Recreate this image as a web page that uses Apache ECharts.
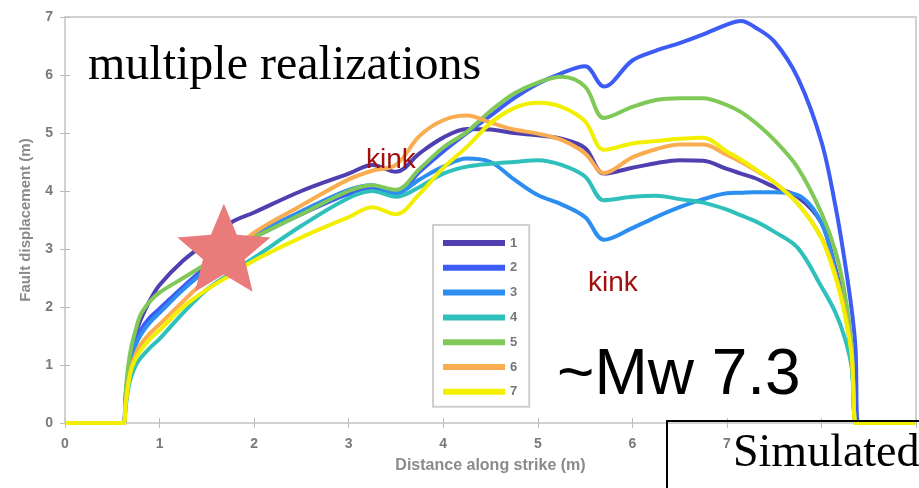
<!DOCTYPE html>
<html><head><meta charset="utf-8">
<script src="https://cdn.jsdelivr.net/npm/echarts/dist/echarts.min.js"></script>
<style>html,body{margin:0;padding:0;background:#fff}#c{width:919px;height:488px}</style>
</head><body><div id="c"></div>
<script>
// Distance along strike (m) sample positions
const distance = [0, 0.62, 0.64, 0.67, 0.7, 0.75, 0.8, 0.9, 1.0, 1.25, 1.5, 1.75, 2.0, 2.5, 3.0, 3.25, 3.5, 3.75, 4.0, 4.25, 4.5, 4.75, 5.0, 5.25, 5.5, 5.7, 6.0, 6.25, 6.5, 6.75, 7.0, 7.15, 7.3, 7.5, 7.75, 8.0, 8.15, 8.25, 8.32, 8.36, 8.39, 9];
// Fault displacement (m) for each realization
const real1 = [0,0,0.45,0.9,1.2,1.55,1.78,2.12,2.38,2.8,3.12,3.45,3.63,4.0,4.3,4.45,4.33,4.65,4.92,5.07,5.06,5.0,4.96,4.9,4.74,4.3,4.4,4.48,4.53,4.52,4.38,4.3,4.22,4.07,3.9,3.45,2.65,1.95,1.15,0,0,0];
const real2 = [0,0,0.4,0.85,1.1,1.4,1.6,1.82,1.97,2.35,2.7,2.98,3.2,3.6,3.95,4.05,3.95,4.33,4.68,5.0,5.3,5.6,5.85,6.03,6.15,5.8,6.25,6.42,6.55,6.7,6.87,6.93,6.82,6.58,5.95,4.85,3.72,2.75,1.95,1.3,0,0];
const real3 = [0,0,0.35,0.8,1.05,1.35,1.52,1.74,1.9,2.3,2.65,3.0,3.25,3.65,4.02,4.1,3.96,4.2,4.42,4.56,4.5,4.2,3.93,3.77,3.55,3.16,3.36,3.55,3.72,3.86,3.96,3.97,3.98,3.98,3.93,3.45,2.6,1.9,1.1,0,0,0];
const real4 = [0,0,0.25,0.6,0.8,1.0,1.12,1.3,1.45,1.9,2.3,2.58,2.85,3.4,3.88,4.0,3.9,4.07,4.3,4.42,4.47,4.5,4.53,4.45,4.25,3.84,3.9,3.92,3.86,3.8,3.68,3.58,3.48,3.3,3.02,2.35,1.9,1.45,0.95,0,0,0];
const real5 = [0,0,0.5,1.0,1.3,1.62,1.87,2.1,2.25,2.5,2.75,3.0,3.2,3.6,4.0,4.1,4.02,4.38,4.75,5.02,5.38,5.68,5.87,5.97,5.8,5.26,5.45,5.57,5.6,5.6,5.48,5.36,5.18,4.88,4.4,3.62,2.95,2.2,1.3,0,0,0];
const real6 = [0,0,0.3,0.7,0.95,1.2,1.35,1.55,1.7,2.1,2.5,2.9,3.28,3.75,4.2,4.35,4.45,4.95,5.22,5.3,5.18,5.06,4.99,4.88,4.65,4.31,4.58,4.72,4.8,4.8,4.62,4.5,4.36,4.15,3.78,3.2,2.55,1.9,1.2,0,0,0];
const real7 = [0,0,0.3,0.68,0.92,1.12,1.25,1.45,1.6,2.0,2.3,2.55,2.8,3.2,3.55,3.72,3.6,3.95,4.4,4.76,5.17,5.43,5.52,5.45,5.2,4.71,4.82,4.86,4.9,4.92,4.68,4.54,4.38,4.15,3.78,3.18,2.5,1.85,1.15,0,0,0];
const realizations = [real1, real2, real3, real4, real5, real6, real7];
const seriesNames = ['1','2','3','4','5','6','7'];
const seriesColors = ['#4f3fb0','#3d5cf5','#2c8ef0','#2fc0bc','#80c858','#f9ad50','#f2f000'];
const hypocenter = [[1.68, 3.02]];
const xTickMax = 8;

const chart = echarts.init(document.getElementById('c'), null, {renderer:'canvas'});
const lineSeries = realizations.map((ys, i) => ({
  name: seriesNames[i],
  type: 'line',
  data: distance.map((x, j) => [x, ys[j]]),
  showSymbol: false,
  symbol: 'none',
  smooth: 0.35,
  color: seriesColors[i],
  lineStyle: {width: 4, color: seriesColors[i]},
  itemStyle: {color: seriesColors[i]},
  z: 2 + i
}));
const starPath = 'path://M50,0 L63.23,31.8 L97.55,34.55 L71.4,56.95 L79.39,90.45 L50,72.5 L20.61,90.45 L28.6,56.95 L2.45,34.55 L36.77,31.8 Z';
const axisGray = '#d2d2d2';
const option = {
  animation: false,
  backgroundColor: '#fff',
  grid: {left: 65, right: 1, top: 17, bottom: 65, show: true, borderColor: axisGray, borderWidth: 2},
  legend: {
    data: seriesNames, orient: 'vertical', left: 433, top: 225,
    itemWidth: 62, itemHeight: 6, icon: 'rect', itemGap: 10.8,
    padding: [11, 12, 8, 10],
    backgroundColor: '#fff', borderColor: '#cfcfcf', borderWidth: 2,
    textStyle: {color: '#777', fontSize: 13, lineHeight: 14, fontFamily: 'Liberation Sans', fontWeight: 'bold'}
  },
  xAxis: [{
    type: 'value', min: 0, max: 9, interval: 1,
    name: 'Distance along strike (m)', nameLocation: 'middle', nameGap: 35,
    nameTextStyle: {color: '#8a8a8a', fontSize: 16, fontFamily: 'Liberation Sans', fontWeight: 'bold'},
    axisLine: {show: true, lineStyle: {color: axisGray, width: 2}},
    axisTick: {show: true, inside: true, length: 5, lineStyle: {color: '#bbb'}},
    axisLabel: {color: '#7a7a7a', fontSize: 14, margin: 14, fontFamily: 'Liberation Sans', fontWeight: 'bold',
      formatter: v => (v <= xTickMax ? String(v) : '')},
    splitLine: {show: false}
  }, {
    type: 'value', min: 0, max: 9, interval: 1, position: 'top',
    axisLine: {show: true, lineStyle: {color: axisGray, width: 2}},
    axisTick: {show: true, inside: true, length: 5, lineStyle: {color: '#bbb'}},
    axisLabel: {show: false}, splitLine: {show: false}
  }],
  yAxis: [{
    type: 'value', min: 0, max: 7, interval: 1,
    name: 'Fault displacement (m)', nameLocation: 'middle', nameGap: 32,
    nameTextStyle: {color: '#8a8a8a', fontSize: 15, fontFamily: 'Liberation Sans', fontWeight: 'bold'},
    axisLine: {show: true, lineStyle: {color: axisGray, width: 2}},
    axisTick: {show: true, inside: true, length: 5, lineStyle: {color: '#bbb'}},
    axisLabel: {color: '#7a7a7a', fontSize: 14, margin: 12, fontFamily: 'Liberation Sans', fontWeight: 'bold'},
    splitLine: {show: false}
  }, {
    type: 'value', min: 0, max: 7, interval: 1, position: 'right',
    axisLine: {show: true, lineStyle: {color: axisGray, width: 2}},
    axisTick: {show: true, inside: true, length: 5, lineStyle: {color: '#bbb'}},
    axisLabel: {show: false}, splitLine: {show: false}
  }],
  series: lineSeries.concat([{
    name: 'hypocenter', type: 'scatter', data: hypocenter,
    symbol: starPath, symbolSize: [93, 88],
    itemStyle: {color: '#e97b7b', opacity: 1}, z: 20, silent: true
  }]),
  graphic: [
    {type: 'text', z: 100, left: 88, top: 42, style: {text: 'multiple realizations', font: '48px "Liberation Serif"', fill: '#000'}},
    {type: 'text', z: 100, left: 366, top: 146, style: {text: 'kink', font: '28px "Liberation Sans"', fill: '#a01010'}},
    {type: 'text', z: 100, left: 588, top: 269, style: {text: 'kink', font: '28px "Liberation Sans"', fill: '#a01010'}},
    {type: 'text', z: 100, left: 557, top: 344, style: {text: '~Mw 7.3', font: '64px "Liberation Sans"', fill: '#000'}},
    {type: 'rect', z: 100, shape: {x: 667, y: 421, width: 270, height: 80}, style: {fill: 'rgba(0,0,0,0)', stroke: '#000', lineWidth: 2}},
    {type: 'text', z: 101, left: 733, top: 431, style: {text: 'Simulated', font: '46px "Liberation Serif"', fill: '#000', backgroundColor: '#fff'}}
  ]
};
chart.setOption(option);
</script></body></html>
